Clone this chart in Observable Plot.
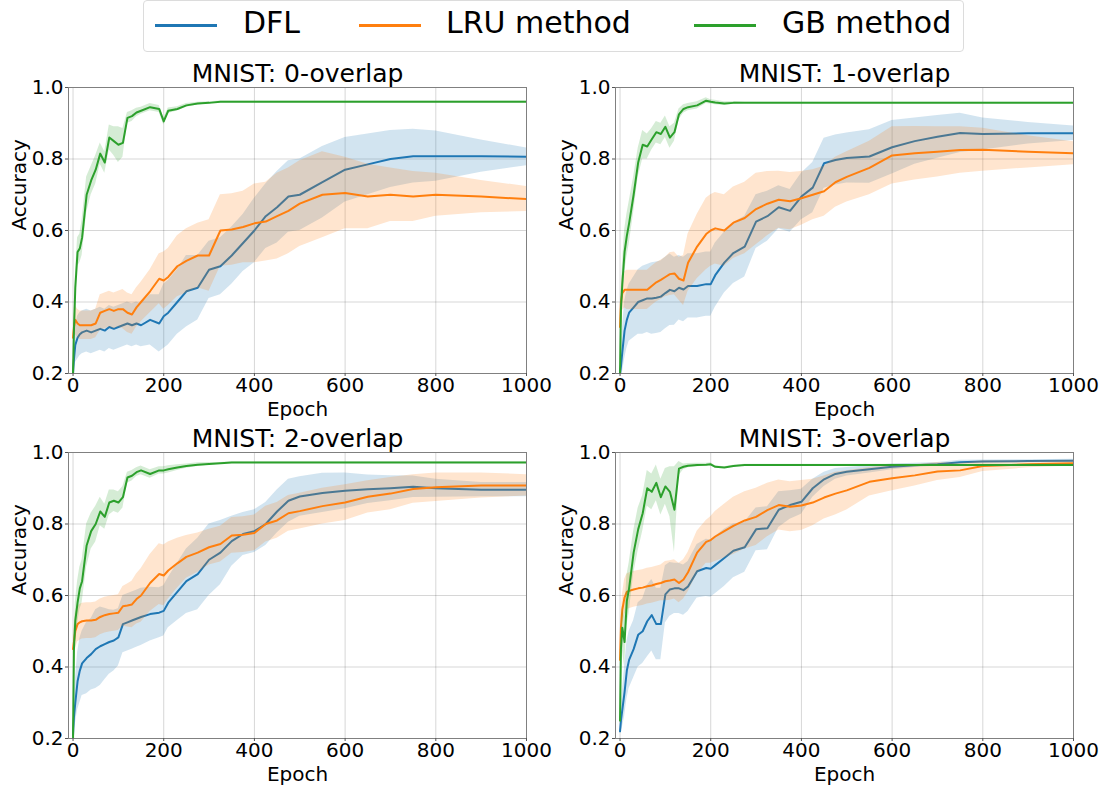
<!DOCTYPE html>
<html>
<head>
<meta charset="utf-8">
<script src="https://cdn.jsdelivr.net/npm/d3@7"></script>
<script src="https://cdn.jsdelivr.net/npm/@observablehq/plot@0.6"></script>
<style>
  html, body { margin: 0; padding: 0; background: #fff; }
  #root { position: relative; width: 1104px; height: 788px; overflow: hidden; font-family: "DejaVu Sans", sans-serif; }
  .panel { position: absolute; }
  #legend { position: absolute; left: 143px; top: 0px; width: 821px; height: 52px; border: 1px solid #dcdcdc; border-radius: 4px; box-sizing: border-box; background: #fff; }
  .sw { position: absolute; height: 3px; top: 23px; width: 62px; }
  .lt { position: absolute; top: 4px; font-size: 30px; line-height: 36px; color: #000; white-space: nowrap; }
</style>
</head>
<body>
<div id="root"><div id="legend"></div></div>
<script>
// ---------- data ----------
const seriesNames = ["DFL", "LRU method", "GB method"];
const seriesColors = ["#1f77b4", "#ff7f0e", "#2ca02c"];
const titles = ["MNIST: 0-overlap", "MNIST: 1-overlap", "MNIST: 2-overlap", "MNIST: 3-overlap"];
const xTicks = [0, 200, 400, 600, 800, 1000];
const yTicks = [0.2, 0.4, 0.6, 0.8, 1.0];
const epochs = [0,2,5,10,15,20,30,40,50,60,70,80,90,100,110,120,130,140,150,170,190,200,210,230,250,275,300,325,350,375,400,425,450,475,500,550,600,650,700,750,800,900,1000];

// panel 0: 0-overlap
const dfl0 = [0.20,0.24,0.28,0.30,0.31,0.315,0.32,0.315,0.32,0.325,
  0.32,0.33,0.325,0.33,0.335,0.34,0.335,0.34,0.335,0.35,
  0.34,0.36,0.37,0.40,0.43,0.44,0.49,0.50,0.53,0.565,
  0.60,0.64,0.665,0.695,0.70,0.735,0.77,0.785,0.80,0.808,
  0.808,0.808,0.806];
const dfl0Sd = [0,0.03,0.05,0.06,0.06,0.06,0.06,0.06,0.06,0.06,
  0.06,0.06,0.06,0.06,0.06,0.06,0.06,0.06,0.06,0.07,
  0.08,0.09,0.09,0.09,0.1,0.09,0.08,0.08,0.08,0.08,
  0.09,0.09,0.1,0.1,0.1,0.1,0.09,0.085,0.08,0.075,
  0.07,0.045,0.025];
const lru0 = [0.30,0.33,0.35,0.34,0.335,0.335,0.335,0.335,0.34,0.37,
  0.375,0.38,0.375,0.38,0.38,0.37,0.365,0.385,0.40,0.43,
  0.465,0.46,0.47,0.50,0.515,0.53,0.53,0.60,0.603,0.61,
  0.62,0.625,0.64,0.655,0.675,0.70,0.705,0.695,0.70,0.695,
  0.70,0.695,0.688];
const lru0Sd = [0,0.03,0.04,0.04,0.04,0.04,0.04,0.04,0.04,0.05,
  0.05,0.05,0.05,0.05,0.055,0.055,0.055,0.055,0.055,0.06,
  0.07,0.08,0.08,0.085,0.09,0.09,0.1,0.1,0.1,0.1,
  0.11,0.11,0.12,0.12,0.12,0.12,0.1,0.09,0.075,0.07,
  0.06,0.045,0.035];
const gb0 = [0.20,0.32,0.44,0.54,0.55,0.58,0.70,0.74,0.77,0.815,
  0.79,0.86,0.85,0.84,0.845,0.915,0.92,0.93,0.935,0.945,
  0.94,0.905,0.935,0.94,0.95,0.955,0.957,0.96,0.96,0.96,
  0.96,0.96,0.96,0.96,0.96,0.96,0.96,0.96,0.96,0.96,
  0.96,0.96,0.96];
const gb0Sd = [0,0.02,0.03,0.04,0.04,0.05,0.05,0.04,0.04,0.03,
  0.03,0.035,0.04,0.05,0.04,0.015,0.015,0.012,0.01,0.01,
  0.01,0.01,0.008,0.006,0.005,0.004,0.003,0.002,0.002,0.002,
  0.002,0.002,0.002,0.002,0.002,0.002,0.002,0.002,0.002,0.002,
  0.002,0.002,0.002];

// panel 1: 1-overlap
const dfl1 = [0.20,0.22,0.26,0.32,0.35,0.37,0.385,0.40,0.405,0.41,
  0.41,0.412,0.415,0.425,0.434,0.43,0.44,0.435,0.445,0.445,
  0.45,0.45,0.475,0.51,0.537,0.555,0.625,0.64,0.665,0.655,
  0.695,0.72,0.788,0.797,0.803,0.807,0.833,0.85,0.862,0.873,
  0.87,0.872,0.872];
const dfl1Sd = [0,0.03,0.06,0.08,0.08,0.08,0.085,0.09,0.095,0.095,
  0.1,0.1,0.1,0.1,0.1,0.095,0.09,0.09,0.09,0.09,
  0.09,0.09,0.09,0.085,0.085,0.085,0.075,0.07,0.06,0.06,
  0.065,0.07,0.07,0.07,0.07,0.075,0.075,0.065,0.06,0.055,
  0.045,0.03,0.02];
const lru1 = [0.33,0.40,0.425,0.434,0.434,0.434,0.434,0.434,0.434,0.434,
  0.445,0.455,0.462,0.47,0.478,0.48,0.465,0.46,0.51,0.555,
  0.59,0.60,0.606,0.60,0.622,0.635,0.66,0.675,0.686,0.682,
  0.69,0.70,0.71,0.735,0.75,0.775,0.81,0.816,0.82,0.825,
  0.826,0.82,0.816];
const lru1Sd = [0,0.03,0.05,0.05,0.055,0.055,0.055,0.055,0.055,0.055,
  0.055,0.055,0.055,0.055,0.06,0.06,0.06,0.07,0.08,0.09,
  0.1,0.1,0.1,0.1,0.1,0.1,0.1,0.09,0.08,0.08,
  0.075,0.07,0.07,0.07,0.07,0.075,0.08,0.075,0.07,0.065,
  0.06,0.045,0.032];
const gb1 = [0.20,0.38,0.45,0.54,0.585,0.62,0.70,0.79,0.84,0.835,
  0.855,0.875,0.87,0.89,0.86,0.875,0.925,0.94,0.945,0.95,
  0.963,0.96,0.958,0.955,0.957,0.957,0.957,0.957,0.957,0.957,
  0.957,0.957,0.957,0.957,0.957,0.957,0.957,0.957,0.957,0.957,
  0.957,0.957,0.957];
const gb1Sd = [0,0.03,0.05,0.06,0.06,0.06,0.05,0.04,0.04,0.035,
  0.03,0.03,0.03,0.03,0.03,0.025,0.015,0.012,0.01,0.01,
  0.008,0.006,0.006,0.005,0.004,0.002,0.002,0.002,0.002,0.002,
  0.002,0.002,0.002,0.002,0.002,0.002,0.002,0.002,0.002,0.002,
  0.002,0.002,0.002];

// panel 2: 2-overlap
const dfl2 = [0.21,0.26,0.30,0.36,0.39,0.41,0.425,0.436,0.45,0.458,
  0.464,0.47,0.474,0.483,0.52,0.525,0.53,0.535,0.54,0.548,
  0.552,0.557,0.58,0.61,0.64,0.66,0.70,0.72,0.752,0.772,
  0.78,0.80,0.835,0.865,0.877,0.887,0.893,0.897,0.90,0.904,
  0.90,0.896,0.896];
const dfl2Sd = [0,0.04,0.06,0.08,0.09,0.09,0.1,0.1,0.11,0.11,
  0.1,0.09,0.085,0.08,0.08,0.08,0.08,0.08,0.08,0.075,
  0.07,0.07,0.07,0.08,0.09,0.1,0.1,0.09,0.07,0.06,
  0.06,0.06,0.06,0.06,0.055,0.055,0.05,0.04,0.035,0.03,
  0.025,0.02,0.02];
const lru2 = [0.45,0.47,0.50,0.52,0.525,0.528,0.53,0.53,0.532,0.54,
  0.545,0.548,0.55,0.552,0.57,0.572,0.575,0.59,0.60,0.635,
  0.66,0.656,0.67,0.69,0.708,0.72,0.735,0.744,0.768,0.77,
  0.775,0.80,0.81,0.83,0.836,0.85,0.86,0.876,0.885,0.898,
  0.903,0.908,0.908];
const lru2Sd = [0,0.03,0.05,0.05,0.05,0.05,0.05,0.05,0.05,0.05,
  0.05,0.05,0.05,0.05,0.055,0.06,0.065,0.07,0.075,0.08,
  0.085,0.085,0.08,0.07,0.06,0.055,0.05,0.05,0.05,0.05,
  0.05,0.05,0.05,0.05,0.05,0.05,0.05,0.045,0.045,0.04,
  0.04,0.035,0.03];
const gb2 = [0.20,0.45,0.53,0.58,0.62,0.64,0.74,0.78,0.80,0.835,
  0.82,0.86,0.865,0.86,0.875,0.93,0.935,0.945,0.95,0.94,
  0.95,0.95,0.953,0.958,0.962,0.966,0.968,0.97,0.972,0.972,
  0.972,0.972,0.972,0.972,0.972,0.972,0.972,0.972,0.972,0.972,
  0.972,0.972,0.972];
const gb2Sd = [0,0.04,0.05,0.06,0.06,0.06,0.06,0.05,0.05,0.04,
  0.035,0.035,0.03,0.03,0.03,0.015,0.015,0.012,0.012,0.012,
  0.01,0.01,0.01,0.008,0.006,0.005,0.004,0.002,0.002,0.002,
  0.002,0.002,0.002,0.002,0.002,0.002,0.002,0.002,0.002,0.002,
  0.002,0.002,0.002];

// panel 3: 3-overlap
const dfl3 = [0.22,0.25,0.28,0.33,0.39,0.42,0.45,0.49,0.50,0.528,
  0.545,0.52,0.52,0.603,0.617,0.62,0.62,0.615,0.625,0.668,
  0.677,0.675,0.685,0.705,0.725,0.735,0.785,0.788,0.84,0.853,
  0.862,0.90,0.925,0.94,0.946,0.953,0.96,0.964,0.967,0.973,
  0.975,0.976,0.977];
const dfl3Sd = [0,0.03,0.05,0.07,0.08,0.08,0.08,0.09,0.09,0.1,
  0.1,0.1,0.1,0.08,0.075,0.07,0.07,0.07,0.07,0.075,
  0.08,0.08,0.08,0.08,0.075,0.07,0.06,0.06,0.05,0.04,
  0.035,0.025,0.02,0.015,0.012,0.01,0.008,0.006,0.005,0.005,
  0.004,0.004,0.004];
const lru3 = [0.42,0.51,0.56,0.595,0.61,0.613,0.617,0.62,0.622,0.626,
  0.628,0.632,0.635,0.64,0.642,0.645,0.635,0.645,0.665,0.72,
  0.75,0.755,0.765,0.78,0.795,0.81,0.82,0.839,0.853,0.848,
  0.852,0.86,0.874,0.885,0.894,0.918,0.928,0.936,0.947,0.95,
  0.962,0.967,0.97];
const lru3Sd = [0,0.03,0.04,0.05,0.05,0.05,0.05,0.05,0.05,0.05,
  0.05,0.05,0.05,0.055,0.055,0.055,0.055,0.055,0.055,0.06,
  0.06,0.065,0.07,0.075,0.08,0.08,0.08,0.075,0.07,0.07,
  0.07,0.065,0.06,0.06,0.055,0.04,0.035,0.03,0.025,0.02,
  0.015,0.01,0.008];
const gb3 = [0.25,0.45,0.51,0.47,0.585,0.62,0.72,0.785,0.83,0.90,
  0.89,0.915,0.875,0.905,0.89,0.84,0.955,0.96,0.963,0.965,
  0.966,0.967,0.96,0.958,0.962,0.965,0.965,0.965,0.965,0.965,
  0.965,0.965,0.965,0.965,0.965,0.965,0.965,0.965,0.965,0.965,
  0.965,0.965,0.965];
const gb3Sd = [0,0.04,0.06,0.07,0.07,0.07,0.06,0.06,0.05,0.05,
  0.05,0.05,0.05,0.05,0.07,0.12,0.02,0.008,0.006,0.005,
  0.004,0.004,0.003,0.002,0.002,0.002,0.002,0.002,0.002,0.002,
  0.002,0.002,0.002,0.002,0.002,0.002,0.002,0.002,0.002,0.002,
  0.002,0.002,0.002];

const panelSeries = [
  [[dfl0, dfl0Sd], [lru0, lru0Sd], [gb0, gb0Sd]],
  [[dfl1, dfl1Sd], [lru1, lru1Sd], [gb1, gb1Sd]],
  [[dfl2, dfl2Sd], [lru2, lru2Sd], [gb2, gb2Sd]],
  [[dfl3, dfl3Sd], [lru3, lru3Sd], [gb3, gb3Sd]]
];

// ---------- layout ----------
const layout = [
  {left: 0,   top: 55,  width: 552, height: 369, mr: 26},
  {left: 547, top: 55,  width: 553, height: 369, mr: 27},
  {left: 0,   top: 420, width: 552, height: 368, mr: 26},
  {left: 547, top: 420, width: 553, height: 368, mr: 27}
];

const root = document.getElementById("root");

// legend
const legend = document.getElementById("legend");
const swLeft = [11, 215, 550];
const txLeft = [99, 302, 638];
seriesNames.forEach((name, i) => {
  const sw = document.createElement("div");
  sw.className = "sw";
  sw.style.left = swLeft[i] + "px";
  sw.style.background = seriesColors[i];
  legend.appendChild(sw);
  const tx = document.createElement("div");
  tx.className = "lt";
  tx.style.left = txLeft[i] + "px";
  tx.textContent = name;
  legend.appendChild(tx);
});

panelSeries.forEach((series, p) => {
  const L = layout[p];
  const marks = [
    Plot.gridX(xTicks, {stroke: "#000", strokeOpacity: 0.16, strokeWidth: 1}),
    Plot.gridY(yTicks, {stroke: "#000", strokeOpacity: 0.16, strokeWidth: 1})
  ];
  series.forEach(([mean, sd], s) => {
    const rows = epochs.map((e, k) => ({epoch: e, acc: mean[k], lo: mean[k] - sd[k], hi: mean[k] + sd[k]}));
    marks.push(Plot.areaY(rows, {x: "epoch", y1: "lo", y2: "hi", fill: seriesColors[s], fillOpacity: 0.2, clip: true}));
    marks.push(Plot.line(rows, {x: "epoch", y: "acc", stroke: seriesColors[s], strokeWidth: 2, clip: true}));
  });
  marks.push(
    Plot.frame({stroke: "#808080", strokeWidth: 1}),
    Plot.axisX(xTicks, {tickSize: 3, tickPadding: 1, stroke: "#555", label: null, tickFormat: d => String(d)}),
    Plot.axisY(yTicks, {tickSize: 3, tickPadding: 2, stroke: "#555", label: null, tickFormat: d3.format(".1f")}),
    Plot.text([titles[p]], {text: d => d, frameAnchor: "top", lineAnchor: "middle", dy: -14, fontSize: 25, fill: "#000"}),
    Plot.text(["Epoch"], {text: d => d, frameAnchor: "bottom", lineAnchor: "middle", dy: 36, fontSize: 20, fill: "#000"}),
    Plot.text(["Accuracy"], {text: d => d, frameAnchor: "left", lineAnchor: "middle", dx: -49, rotate: -90, fontSize: 20, fill: "#000"})
  );
  const svg = Plot.plot({
    width: L.width,
    height: L.height,
    marginLeft: 68,
    marginRight: L.mr,
    marginTop: 32,
    marginBottom: L.height - 32 - 286,
    x: {domain: [-10, 1000], label: null},
    y: {domain: [0.2, 1.0], label: null},
    style: {fontFamily: "DejaVu Sans", fontSize: "20px", color: "#000", background: "transparent", overflow: "visible"},
    marks
  });
  const div = document.createElement("div");
  div.className = "panel";
  div.style.left = L.left + "px";
  div.style.top = L.top + "px";
  div.appendChild(svg);
  root.appendChild(div);
});
</script>
</body>
</html>
